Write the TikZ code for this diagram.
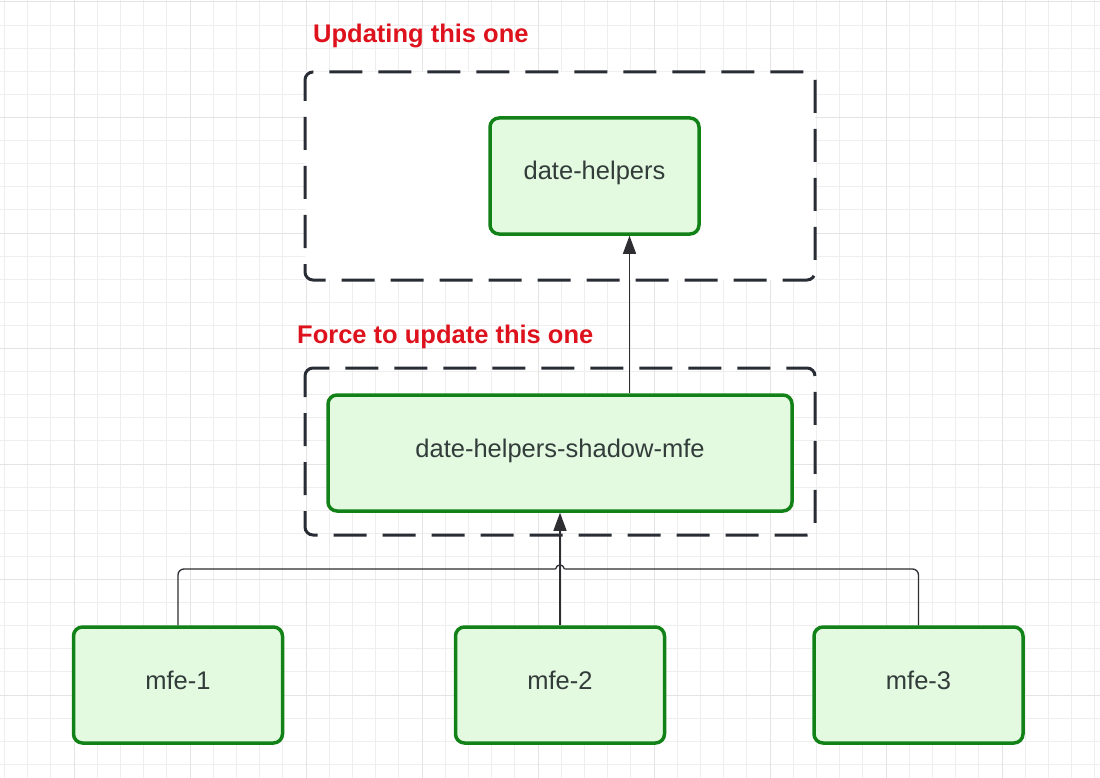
\documentclass[tikz,border=0pt]{standalone}
\usepackage{fontspec}
\setmainfont{Liberation Sans}
\usetikzlibrary{arrows.meta}
\definecolor{gminor}{RGB}{238,238,238}
\definecolor{gmajor}{RGB}{228,228,228}
\definecolor{boxgreen}{RGB}{18,130,24}
\definecolor{boxfill}{RGB}{227,249,224}
\definecolor{txt}{RGB}{50,60,58}
\definecolor{dashcol}{RGB}{40,44,52}
\definecolor{conncol}{RGB}{45,45,50}
\definecolor{lblred}{RGB}{222,18,28}
\tikzset{
  greenbox/.style={draw=boxgreen, fill=boxfill, line width=3.5pt, rounded corners=9pt,
    text=txt, font=\fontsize{25.5}{30}\selectfont, inner sep=0pt, text height=14pt, text depth=6pt},
  groupbox/.style={draw=dashcol, line width=3pt, rounded corners=8pt, dash pattern=on 33pt off 16pt},
  conn/.style={draw=conncol, line width=1.3pt},
  arr/.style={conn, -{Triangle[length=18pt,width=13pt]}},
  redlabel/.style={text=lblred, font=\bfseries\fontsize{25.5}{30}\selectfont, inner sep=0pt, anchor=base west}
}
\begin{document}
\begin{tikzpicture}[x=1pt,y=-1pt]
\useasboundingbox (0,0) rectangle (1100,778);
\fill[white] (0,0) rectangle (1100,778);
% grid
\foreach \k in {0,...,47} {
  \pgfmathsetmacro{\gx}{4.4+23.2*\k}
  \draw[gminor, line width=1pt] (\gx,0) -- (\gx,778);
}
\foreach \k in {0,...,33} {
  \pgfmathsetmacro{\gy}{2+23.1*\k}
  \draw[gminor, line width=1pt] (0,\gy) -- (1100,\gy);
}
\foreach \k in {0,...,9} {
  \pgfmathsetmacro{\gx}{74-116*1+116*\k}
  \draw[gmajor, line width=1pt] (\gx,0) -- (\gx,778);
}
\foreach \k in {0,...,6} {
  \pgfmathsetmacro{\gy}{2+115.5*\k}
  \draw[gmajor, line width=1pt] (0,\gy) -- (1100,\gy);
}
% group boxes
\path[groupbox, fill=white, dash phase=12pt] (305,72) rectangle (815,280);
\path[groupbox, dash phase=12pt] (305,368) rectangle (815,535);
% labels
\node[redlabel] (lab1) at (313,43) {Updating this one};
\node[redlabel] (lab2) at (297,343) {Force to update this one};
% nodes
\node[greenbox, minimum width=209pt, minimum height=116pt] (dh) at (594.5,176) {date-helpers};
\node[greenbox, minimum width=464pt, minimum height=116pt] (sh) at (560,453) {date-helpers-shadow-mfe};
\node[greenbox, minimum width=209pt, minimum height=116pt] (m1) at (178,685) {mfe-1};
\node[greenbox, minimum width=209pt, minimum height=116pt] (m2) at (560,685) {mfe-2};
\node[greenbox, minimum width=209pt, minimum height=116pt] (m3) at (918.5,685) {mfe-3};
% connectors
\coordinate (hopL) at (555.5,569);
\coordinate (hopR) at (564.5,569);
\draw[arr] ([xshift=69.5pt]sh.north) -- ([xshift=35pt]dh.south);
\draw[conn, rounded corners=6pt] (m1.north) |- (hopL);
\draw[conn] (hopL) .. controls (557,563.5) and (563,563.5) .. (hopR);
\draw[conn, rounded corners=6pt] (hopR) -| (m3.north);
\draw[arr] (m2.north) -- (sh.south);
\end{tikzpicture}
\end{document}
